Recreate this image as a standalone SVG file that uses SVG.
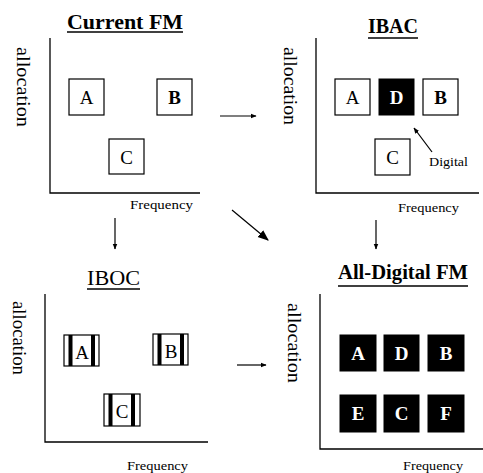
<svg xmlns="http://www.w3.org/2000/svg" width="483" height="473" viewBox="0 0 483 473">
<defs>
<style>
text{font-family:"Liberation Serif","Times New Roman",serif;fill:#000}
.title{font-size:20px;font-weight:bold}
.axis{stroke:#000;stroke-width:1.3;fill:none}
.ul{stroke:#000;stroke-width:1.5}
.alloc{font-size:19px}
.freq{font-size:13px}
.box{fill:#fff;stroke:#000;stroke-width:1.2}
.bbox{fill:#000;stroke:#000;stroke-width:1}
.lbl{font-size:19px;text-anchor:middle}
.wl{font-size:19px;text-anchor:middle;fill:#fff;font-weight:bold}
.bar{fill:#000}
.conn{stroke:#000;stroke-width:1.2;fill:none}
</style>
<marker id="ah" viewBox="0 0 10 10" refX="9" refY="5" markerWidth="6" markerHeight="6" orient="auto" markerUnits="userSpaceOnUse">
<path d="M0,1 L10,5 L0,9 z" fill="#000"/>
</marker>
<marker id="ahb" viewBox="0 0 10 10" refX="9" refY="5" markerWidth="11" markerHeight="11" orient="auto" markerUnits="userSpaceOnUse">
<path d="M0,1 L10,5 L0,9 z" fill="#000"/>
</marker>
</defs>
<rect width="483" height="473" fill="#fff"/>

<g id="panel-current-fm">
<text class="title" x="67" y="29" textLength="116" lengthAdjust="spacingAndGlyphs" style="font-weight:bold">Current  FM</text>
<line class="ul" x1="67" y1="32" x2="183" y2="32"/>
<path class="axis" d="M50,38 V193 H200"/>
<text class="alloc" transform="translate(17,47) rotate(90)" textLength="80" lengthAdjust="spacingAndGlyphs">allocation</text>
<text class="freq" x="130" y="209" textLength="63" lengthAdjust="spacingAndGlyphs">Frequency</text>
<g id="cfm-A"><rect class="box" x="69" y="79" width="35" height="36"/><text class="lbl" x="86.5" y="104">A</text></g>
<g id="cfm-B"><rect class="box" x="157" y="79" width="35" height="36"/><text class="lbl" x="174.5" y="104" font-weight="bold">B</text></g>
<g id="cfm-C"><rect class="box" x="109" y="139" width="35" height="35"/><text class="lbl" x="126.5" y="163.5">C</text></g>
</g>

<g id="panel-ibac">
<text class="title" x="368" y="33" textLength="50" lengthAdjust="spacingAndGlyphs">IBAC</text>
<line class="ul" x1="368" y1="38" x2="418" y2="38"/>
<path class="axis" d="M316,38 V193 H479"/>
<text class="alloc" transform="translate(284,47) rotate(90)" textLength="78" lengthAdjust="spacingAndGlyphs">allocation</text>
<text class="freq" x="398" y="212" textLength="61" lengthAdjust="spacingAndGlyphs">Frequency</text>
<g id="ibac-A"><rect class="box" x="335" y="79" width="35" height="36"/><text class="lbl" x="352.5" y="104">A</text></g>
<g id="ibac-D"><rect class="bbox" x="379" y="79" width="35" height="36"/><text class="wl" x="396.5" y="104">D</text></g>
<g id="ibac-B"><rect class="box" x="423" y="79" width="35" height="36"/><text class="lbl" x="440.5" y="104" font-weight="bold">B</text></g>
<g id="ibac-C"><rect class="box" x="375" y="139" width="35" height="36"/><text class="lbl" x="392.5" y="164">C</text></g>
<g id="ibac-digital"><text x="429" y="166" font-size="13" textLength="39" lengthAdjust="spacingAndGlyphs">Digital</text></g>
</g>

<g id="panel-iboc">
<text class="title" x="87" y="285" textLength="53" lengthAdjust="spacingAndGlyphs" style="font-weight:normal">IBOC</text>
<line class="ul" x1="87" y1="289" x2="140" y2="289"/>
<path class="axis" d="M45,294 V442 H208"/>
<text class="alloc" transform="translate(13,301) rotate(90)" textLength="74" lengthAdjust="spacingAndGlyphs">allocation</text>
<text class="freq" x="127" y="470" textLength="61" lengthAdjust="spacingAndGlyphs">Frequency</text>
<g id="iboc-A"><rect class="box" x="64" y="335" width="35" height="31"/><rect class="bar" x="68.5" y="335" width="4" height="31"/><rect class="bar" x="91" y="335" width="4" height="31"/><text class="lbl" x="82" y="359" font-size="18">A</text></g>
<g id="iboc-B"><rect class="box" x="153" y="334" width="35" height="31"/><rect class="bar" x="157.5" y="334" width="4" height="31"/><rect class="bar" x="180" y="334" width="4" height="31"/><text class="lbl" x="171" y="358" font-size="18">B</text></g>
<g id="iboc-C"><rect class="box" x="104" y="394" width="36" height="32"/><rect class="bar" x="108.5" y="394" width="4" height="32"/><rect class="bar" x="131" y="394" width="4" height="32"/><text class="lbl" x="122" y="418" font-size="18">C</text></g>
</g>

<g id="panel-all-digital">
<text class="title" x="338" y="279" textLength="130" lengthAdjust="spacingAndGlyphs">All-Digital  FM</text>
<line class="ul" x1="338" y1="286" x2="468" y2="286"/>
<path class="axis" d="M320,294 V449 H483"/>
<text class="alloc" transform="translate(288,303) rotate(90)" textLength="80" lengthAdjust="spacingAndGlyphs">allocation</text>
<text class="freq" x="403" y="470" textLength="60" lengthAdjust="spacingAndGlyphs">Frequency</text>
<g id="ad-A"><rect class="bbox" x="340" y="335" width="36" height="36"/><text class="wl" x="358" y="360">A</text></g>
<g id="ad-D"><rect class="bbox" x="384" y="335" width="35" height="36"/><text class="wl" x="401.5" y="360">D</text></g>
<g id="ad-B"><rect class="bbox" x="428" y="335" width="36" height="36"/><text class="wl" x="446" y="360">B</text></g>
<g id="ad-E"><rect class="bbox" x="340" y="395" width="36" height="37"/><text class="wl" x="358" y="420">E</text></g>
<g id="ad-C"><rect class="bbox" x="384" y="395" width="35" height="37"/><text class="wl" x="401.5" y="420">C</text></g>
<g id="ad-F"><rect class="bbox" x="428" y="395" width="36" height="37"/><text class="wl" x="446" y="420">F</text></g>
</g>

<g id="connectors">
<line class="conn" x1="220" y1="116" x2="256" y2="116" marker-end="url(#ah)"/>
<line class="conn" x1="115" y1="218" x2="115" y2="249" marker-end="url(#ah)"/>
<line class="conn" x1="376" y1="220" x2="376" y2="249" marker-end="url(#ah)"/>
<line class="conn" x1="232" y1="210" x2="268" y2="240" stroke-width="2" marker-end="url(#ahb)"/>
<line class="conn" x1="237" y1="365" x2="266" y2="365" marker-end="url(#ah)"/>
<line class="conn" x1="432" y1="152" x2="414" y2="128" marker-end="url(#ah)"/>
</g>
</svg>
